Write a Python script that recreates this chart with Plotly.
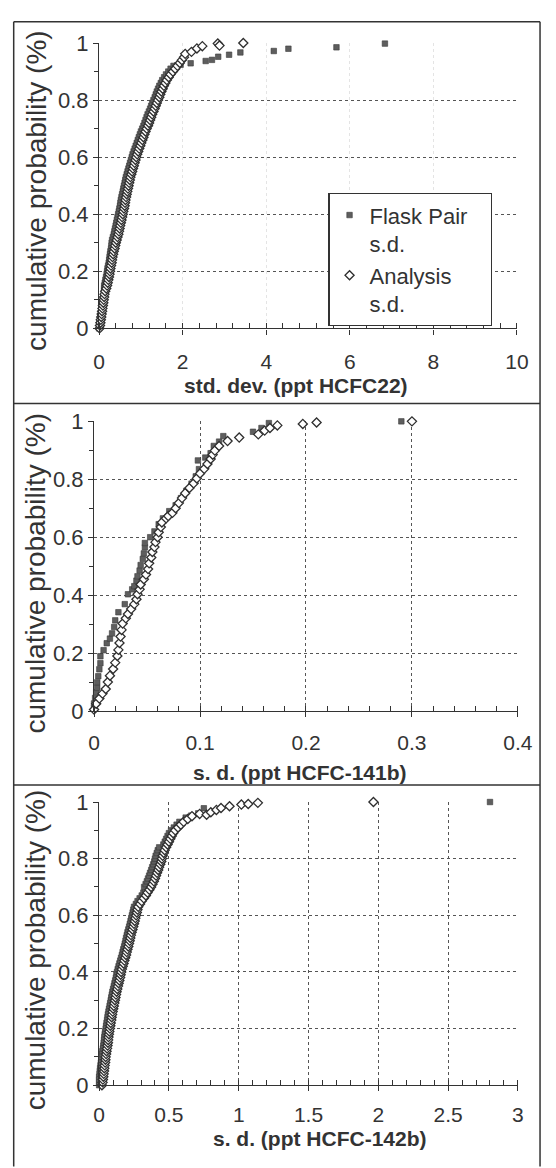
import plotly.graph_objects as go

W, H = 556, 1168

# ---------------- data ----------------
# Panel 1: HCFC-22  (Flask Pair s.d. = squares, Analysis s.d. = diamonds)
p1_flask_x = [0.00, 0.00, 0.01, 0.02, 0.03, 0.04, 0.05, 0.06, 0.07, 0.08, 0.09, 0.10, 0.11, 0.12, 0.12,
              0.12, 0.135, 0.15, 0.165, 0.18, 0.19, 0.20, 0.215, 0.23, 0.24, 0.25, 0.26, 0.27, 0.285, 0.295,
              0.30, 0.31, 0.33, 0.35, 0.365, 0.38, 0.395, 0.41, 0.425, 0.44, 0.455, 0.47, 0.485, 0.50, 0.51,
              0.52, 0.535, 0.55, 0.565, 0.58, 0.595, 0.61, 0.625, 0.64, 0.66, 0.68, 0.70, 0.72, 0.74, 0.76,
              0.78, 0.80, 0.825, 0.85, 0.875, 0.90, 0.925, 0.95, 0.975, 1.00, 1.03, 1.06, 1.085, 1.11, 1.135,
              1.16, 1.19, 1.22, 1.245, 1.27, 1.30, 1.33, 1.355, 1.38, 1.41, 1.44, 1.475, 1.51, 1.555, 1.60,
              1.655, 1.71, 1.78, 1.87, 1.95,
              2.19, 2.55, 2.70, 2.85, 3.11, 3.38, 4.18, 4.53, 5.68, 6.84]
p1_flask_y = [0.00, 0.01, 0.02, 0.03, 0.04, 0.05, 0.06, 0.07, 0.08, 0.09, 0.10, 0.11, 0.12, 0.13, 0.14,
              0.15, 0.16, 0.17, 0.18, 0.19, 0.20, 0.21, 0.22, 0.23, 0.24, 0.25, 0.26, 0.27, 0.28, 0.29,
              0.30, 0.31, 0.32, 0.33, 0.34, 0.35, 0.36, 0.37, 0.38, 0.39, 0.40, 0.41, 0.42, 0.43, 0.44,
              0.45, 0.46, 0.47, 0.48, 0.49, 0.50, 0.51, 0.52, 0.53, 0.54, 0.55, 0.56, 0.57, 0.58, 0.59,
              0.60, 0.61, 0.62, 0.63, 0.64, 0.65, 0.66, 0.67, 0.68, 0.69, 0.70, 0.71, 0.72, 0.73, 0.74,
              0.75, 0.76, 0.77, 0.78, 0.79, 0.80, 0.81, 0.82, 0.83, 0.84, 0.85, 0.86, 0.87, 0.88, 0.89,
              0.90, 0.91, 0.92, 0.922, 0.924,
              0.929, 0.937, 0.941, 0.952, 0.959, 0.967, 0.972, 0.980, 0.985, 0.998]
p1_anal_x = [0.01, 0.02, 0.03, 0.04, 0.05, 0.06, 0.07, 0.08, 0.09, 0.10, 0.11, 0.12, 0.13, 0.145, 0.17,
             0.19, 0.205, 0.22, 0.235, 0.25, 0.26, 0.27, 0.285, 0.30, 0.31, 0.32, 0.335, 0.35, 0.37, 0.385,
             0.40, 0.42, 0.44, 0.46, 0.475, 0.49, 0.505, 0.52, 0.535, 0.55, 0.565, 0.58, 0.595, 0.61, 0.62,
             0.63, 0.645, 0.66, 0.675, 0.69, 0.705, 0.72, 0.735, 0.75, 0.77, 0.79, 0.81, 0.83, 0.85, 0.87,
             0.89, 0.91, 0.935, 0.96, 0.985, 1.01, 1.035, 1.06, 1.085, 1.11, 1.14, 1.17, 1.195, 1.22, 1.245,
             1.27, 1.30, 1.33, 1.355, 1.38, 1.41, 1.44, 1.465, 1.49, 1.52, 1.55, 1.585, 1.62, 1.665, 1.71,
             1.765, 1.82, 1.875, 1.93, 1.98, 2.03,
             2.06, 2.21, 2.34, 2.47, 2.84, 2.88, 3.45]
p1_anal_y = [0.00, 0.01, 0.02, 0.03, 0.04, 0.05, 0.06, 0.07, 0.08, 0.09, 0.10, 0.11, 0.12, 0.13, 0.14,
             0.15, 0.16, 0.17, 0.18, 0.19, 0.20, 0.21, 0.22, 0.23, 0.24, 0.25, 0.26, 0.27, 0.28, 0.29,
             0.30, 0.31, 0.32, 0.33, 0.34, 0.35, 0.36, 0.37, 0.38, 0.39, 0.40, 0.41, 0.42, 0.43, 0.44,
             0.45, 0.46, 0.47, 0.48, 0.49, 0.50, 0.51, 0.52, 0.53, 0.54, 0.55, 0.56, 0.57, 0.58, 0.59,
             0.60, 0.61, 0.62, 0.63, 0.64, 0.65, 0.66, 0.67, 0.68, 0.69, 0.70, 0.71, 0.72, 0.73, 0.74,
             0.75, 0.76, 0.77, 0.78, 0.79, 0.80, 0.81, 0.82, 0.83, 0.84, 0.85, 0.86, 0.87, 0.88, 0.89,
             0.90, 0.91, 0.92, 0.93, 0.94, 0.95,
             0.962, 0.969, 0.981, 0.989, 0.998, 0.991, 1.000]

# Panel 2: HCFC-141b
p2_flask_x = [0.000, 0.000, 0.001, 0.002, 0.003, 0.003, 0.004, 0.005, 0.006, 0.006, 0.009, 0.012, 0.015,
              0.017, 0.019, 0.020, 0.023, 0.029, 0.032, 0.036, 0.038, 0.040, 0.041, 0.043, 0.044, 0.046,
              0.047, 0.048, 0.048, 0.053, 0.057, 0.061, 0.065, 0.071, 0.077, 0.082, 0.087, 0.092, 0.096,
              0.099, 0.098, 0.105, 0.110, 0.113, 0.118, 0.122, 0.150, 0.158, 0.165, 0.290]
p2_flask_y = [0.010, 0.026, 0.045, 0.065, 0.080, 0.099, 0.120, 0.144, 0.165, 0.189, 0.210, 0.234, 0.250,
              0.268, 0.290, 0.313, 0.341, 0.369, 0.403, 0.420, 0.431, 0.450, 0.465, 0.485, 0.504, 0.525,
              0.544, 0.565, 0.580, 0.600, 0.620, 0.645, 0.665, 0.690, 0.710, 0.735, 0.760, 0.785, 0.810,
              0.835, 0.865, 0.875, 0.890, 0.915, 0.930, 0.949, 0.964, 0.977, 0.994, 1.000]
p2_anal_x = [0.000, 0.002, 0.005, 0.008, 0.011, 0.013, 0.015, 0.018, 0.020, 0.022, 0.023, 0.024, 0.025,
             0.026, 0.027, 0.030, 0.032, 0.035, 0.038, 0.040, 0.041, 0.043, 0.044, 0.047, 0.049, 0.051,
             0.052, 0.054, 0.055, 0.057, 0.058, 0.060, 0.061, 0.063, 0.064, 0.068, 0.070, 0.074, 0.077,
             0.080, 0.083, 0.086, 0.090, 0.094, 0.097, 0.100, 0.104, 0.107, 0.110, 0.112, 0.114, 0.118,
             0.126, 0.137, 0.155, 0.161, 0.166, 0.173, 0.197, 0.210, 0.300]
p2_anal_y = [0.005, 0.025, 0.043, 0.060, 0.076, 0.100, 0.122, 0.145, 0.167, 0.190, 0.211, 0.235, 0.257,
             0.280, 0.302, 0.320, 0.335, 0.352, 0.369, 0.386, 0.403, 0.420, 0.437, 0.455, 0.471, 0.490,
             0.510, 0.530, 0.549, 0.566, 0.583, 0.600, 0.617, 0.635, 0.651, 0.665, 0.673, 0.684, 0.700,
             0.718, 0.735, 0.752, 0.770, 0.786, 0.803, 0.820, 0.836, 0.853, 0.870, 0.885, 0.899, 0.915,
             0.932, 0.944, 0.955, 0.968, 0.977, 0.986, 0.991, 0.996, 1.000]

# Panel 3: HCFC-142b
p3_flask_x = [0.000, 0.000, 0.000, 0.000, 0.003, 0.005, 0.007, 0.010, 0.013, 0.015, 0.017, 0.020, 0.023,
              0.027, 0.030, 0.033, 0.035, 0.037, 0.040, 0.043, 0.047, 0.050, 0.053, 0.057, 0.060, 0.063,
              0.067, 0.071, 0.075, 0.079, 0.083, 0.087, 0.091, 0.095, 0.100, 0.105, 0.110, 0.115, 0.120,
              0.124, 0.128, 0.133, 0.139, 0.145, 0.151, 0.157, 0.163, 0.168, 0.173, 0.179, 0.184, 0.189,
              0.193, 0.198, 0.203, 0.209, 0.215, 0.220, 0.225, 0.230, 0.235, 0.240, 0.245, 0.250, 0.263,
              0.275, 0.290, 0.305, 0.317, 0.330, 0.322, 0.333, 0.342, 0.350, 0.358, 0.365, 0.373, 0.380,
              0.388, 0.395, 0.400, 0.405, 0.413, 0.420, 0.430, 0.460, 0.470, 0.480, 0.490, 0.500, 0.515,
              0.535, 0.555, 0.575,
              0.620, 0.660, 0.710, 0.750, 2.800]
p3_flask_y = [0.00, 0.01, 0.02, 0.03, 0.04, 0.05, 0.06, 0.07, 0.08, 0.09, 0.10, 0.11, 0.12,
              0.13, 0.14, 0.15, 0.16, 0.17, 0.18, 0.19, 0.20, 0.21, 0.22, 0.23, 0.24, 0.25,
              0.26, 0.27, 0.28, 0.29, 0.30, 0.31, 0.32, 0.33, 0.34, 0.35, 0.36, 0.37, 0.38,
              0.39, 0.40, 0.41, 0.42, 0.43, 0.44, 0.45, 0.46, 0.47, 0.48, 0.49, 0.50, 0.51,
              0.52, 0.53, 0.54, 0.55, 0.56, 0.57, 0.58, 0.59, 0.60, 0.61, 0.62, 0.63, 0.64,
              0.65, 0.66, 0.67, 0.68, 0.69, 0.70, 0.71, 0.72, 0.73, 0.74, 0.75, 0.76, 0.77,
              0.78, 0.79, 0.80, 0.81, 0.82, 0.83, 0.84, 0.85, 0.86, 0.87, 0.88, 0.89, 0.90,
              0.91, 0.92, 0.93,
              0.945, 0.952, 0.960, 0.978, 1.000]
p3_anal_x = [0.020, 0.025, 0.027, 0.030, 0.033, 0.035, 0.037, 0.040, 0.043, 0.045, 0.047, 0.050, 0.053,
             0.057, 0.060, 0.063, 0.065, 0.067, 0.070, 0.073, 0.077, 0.080, 0.083, 0.087, 0.090, 0.093,
             0.097, 0.101, 0.105, 0.109, 0.113, 0.117, 0.121, 0.125, 0.130, 0.135, 0.140, 0.145, 0.150,
             0.154, 0.158, 0.163, 0.169, 0.175, 0.181, 0.187, 0.193, 0.198, 0.203, 0.209, 0.214, 0.219,
             0.223, 0.228, 0.233, 0.239, 0.245, 0.250, 0.255, 0.260, 0.265, 0.270, 0.275, 0.280, 0.293,
             0.305, 0.320, 0.335, 0.347, 0.360, 0.372, 0.383, 0.392, 0.400, 0.408, 0.415, 0.423, 0.430,
             0.438, 0.445, 0.450, 0.455, 0.463, 0.470, 0.480, 0.490, 0.500, 0.510, 0.520, 0.530, 0.545,
             0.565, 0.585, 0.605, 0.635, 0.665,
             0.720, 0.770, 0.800, 0.840, 0.873, 0.934, 1.019, 1.068, 1.137, 1.965]
p3_anal_y = [0.00, 0.01, 0.02, 0.03, 0.04, 0.05, 0.06, 0.07, 0.08, 0.09, 0.10, 0.11, 0.12,
             0.13, 0.14, 0.15, 0.16, 0.17, 0.18, 0.19, 0.20, 0.21, 0.22, 0.23, 0.24, 0.25,
             0.26, 0.27, 0.28, 0.29, 0.30, 0.31, 0.32, 0.33, 0.34, 0.35, 0.36, 0.37, 0.38,
             0.39, 0.40, 0.41, 0.42, 0.43, 0.44, 0.45, 0.46, 0.47, 0.48, 0.49, 0.50, 0.51,
             0.52, 0.53, 0.54, 0.55, 0.56, 0.57, 0.58, 0.59, 0.60, 0.61, 0.62, 0.63, 0.64,
             0.65, 0.66, 0.67, 0.68, 0.69, 0.70, 0.71, 0.72, 0.73, 0.74, 0.75, 0.76, 0.77,
             0.78, 0.79, 0.80, 0.81, 0.82, 0.83, 0.84, 0.85, 0.86, 0.87, 0.88, 0.89, 0.90,
             0.91, 0.92, 0.93, 0.94, 0.95,
             0.958, 0.955, 0.964, 0.972, 0.979, 0.985, 0.991, 0.993, 0.997, 1.000]

y_tick_vals = [0, 0.2, 0.4, 0.6, 0.8, 1]
legend_names = ["Flask Pair&nbsp;&nbsp;&nbsp;<br>s.d.", "Analysis<br>s.d."]
x_titles = ["std. dev. (ppt HCFC22)", "s. d. (ppt HCFC-141b)", "s. d. (ppt HCFC-142b)"]
y_title = "cumulative probability (%)"

# ---------------- styling ----------------
FONT = "Liberation Sans, Arial, Helvetica, sans-serif"
AX = "#333333"
GRID = "#555555"


def px_x(v):
    return v / W


def px_y(v):
    return 1 - v / H


fig = go.Figure()

panels = [
    (p1_flask_x, p1_flask_y, p1_anal_x, p1_anal_y),
    (p2_flask_x, p2_flask_y, p2_anal_x, p2_anal_y),
    (p3_flask_x, p3_flask_y, p3_anal_x, p3_anal_y),
]
for i, (fx, fy, ax_, ay) in enumerate(panels):
    sfx = "" if i == 0 else str(i + 1)
    fig.add_trace(go.Scatter(
        x=fx, y=fy, mode="markers", name=legend_names[0], showlegend=(i == 0),
        xaxis="x" + sfx, yaxis="y" + sfx, cliponaxis=False,
        marker=dict(symbol="square", size=5.5, color="#5e5e5e",
                    line=dict(color="#3a3a3a", width=0.6)),
    ))
    fig.add_trace(go.Scatter(
        x=ax_, y=ay, mode="markers", name=legend_names[1], showlegend=(i == 0),
        xaxis="x" + sfx, yaxis="y" + sfx, cliponaxis=False,
        marker=dict(symbol="diamond", size=7, color="white",
                    line=dict(color="#2f2f2f", width=1.3)),
    ))

# axis geometry (pixels)
geo = [
    dict(x0=96.8, x1=531, ytop=31.7, ybot=323.3, rng=[0, 10], dt=2, mdt=0.4, vgrid="#e4e4e4", so=9),
    dict(x0=91.5, x1=532, ytop=418.3, ybot=714.3, rng=[0, 0.4], dt=0.1, mdt=0.02, vgrid=GRID, so=8),
    dict(x0=96.8, x1=532, ytop=807.3, ybot=1096.7, rng=[0, 3], dt=0.5, mdt=0.1, vgrid=GRID, so=5),
]

layout_axes = {}
for i, g in enumerate(geo):
    sfx = "" if i == 0 else str(i + 1)
    layout_axes["xaxis" + sfx] = dict(
        domain=[px_x(g["x0"]), px_x(g["x1"])], range=g["rng"], anchor="y" + sfx,
        tickmode="linear", tick0=0, dtick=g["dt"],
        showline=True, linecolor=AX, linewidth=1.3,
        ticks="outside", ticklen=5, tickwidth=1.2, tickcolor=AX,
        minor=dict(dtick=g["mdt"], tick0=0, ticks="inside", ticklen=5, tickwidth=1, tickcolor=AX, showgrid=False),
        showgrid=True, gridcolor=g["vgrid"], griddash="dot", gridwidth=1,
        zeroline=False, ticklabelstandoff=g["so"],
        tickfont=dict(family=FONT, size=21, color="#333333"),
        fixedrange=True,
    )
    layout_axes["yaxis" + sfx] = dict(
        domain=[px_y(g["ybot"]), px_y(g["ytop"])], range=[0, 1], anchor="x" + sfx,
        tickmode="array", tickvals=y_tick_vals,
        showline=True, linecolor=AX, linewidth=1.3,
        ticks="outside", ticklen=5, tickwidth=1.2, tickcolor=AX,
        minor=dict(dtick=0.1, tick0=0, ticks="outside", ticklen=4, tickwidth=1, tickcolor=AX, showgrid=False),
        showgrid=True, gridcolor=GRID, griddash="dot", gridwidth=1,
        zeroline=False,
        tickfont=dict(family=FONT, size=22, color="#333333"),
        fixedrange=True,
    )

annotations = []
ytitle_centers = [182, 573, 958]
xtitle_pos = [(301, 382), (306, 777), (326, 1151)]
for i in range(3):
    annotations.append(dict(
        text=y_title, xref="paper", yref="paper", x=px_x(31), y=px_y(ytitle_centers[i]),
        xanchor="center", yanchor="middle", textangle=-90, showarrow=False,
        font=dict(family=FONT, size=28, color="#333333"),
    ))
    annotations.append(dict(
        text="<b>" + x_titles[i] + "</b>", xref="paper", yref="paper",
        x=px_x(xtitle_pos[i][0]), y=px_y(xtitle_pos[i][1]),
        xanchor="center", yanchor="middle", showarrow=False,
        font=dict(family=FONT, size=21, color="#333333"),
    ))

frame = dict(color="#333333", width=1.5)
shapes = []
for yy in [10, 400, 790]:
    shapes.append(dict(type="line", xref="paper", yref="paper",
                       x0=px_x(8), x1=px_x(555), y0=px_y(yy), y1=px_y(yy), line=frame))
for xx in [8, 555]:
    shapes.append(dict(type="line", xref="paper", yref="paper",
                       x0=px_x(xx), x1=px_x(xx), y0=px_y(10), y1=-0.01, line=frame))

fig.update_layout(
    width=W, height=H, margin=dict(l=0, r=0, t=0, b=0),
    paper_bgcolor="white", plot_bgcolor="white",
    font=dict(family=FONT, size=22, color="#333333"),
    showlegend=True,
    legend=dict(x=px_x(335), y=px_y(185), xanchor="left", yanchor="top",
                bordercolor="#333333", borderwidth=1.2, bgcolor="white",
                font=dict(family=FONT, size=22, color="#333333"),
                valign="top", tracegroupgap=0, itemsizing="trace"),
    annotations=annotations, shapes=shapes,
    **layout_axes,
)

fig.write_html("out.html")
